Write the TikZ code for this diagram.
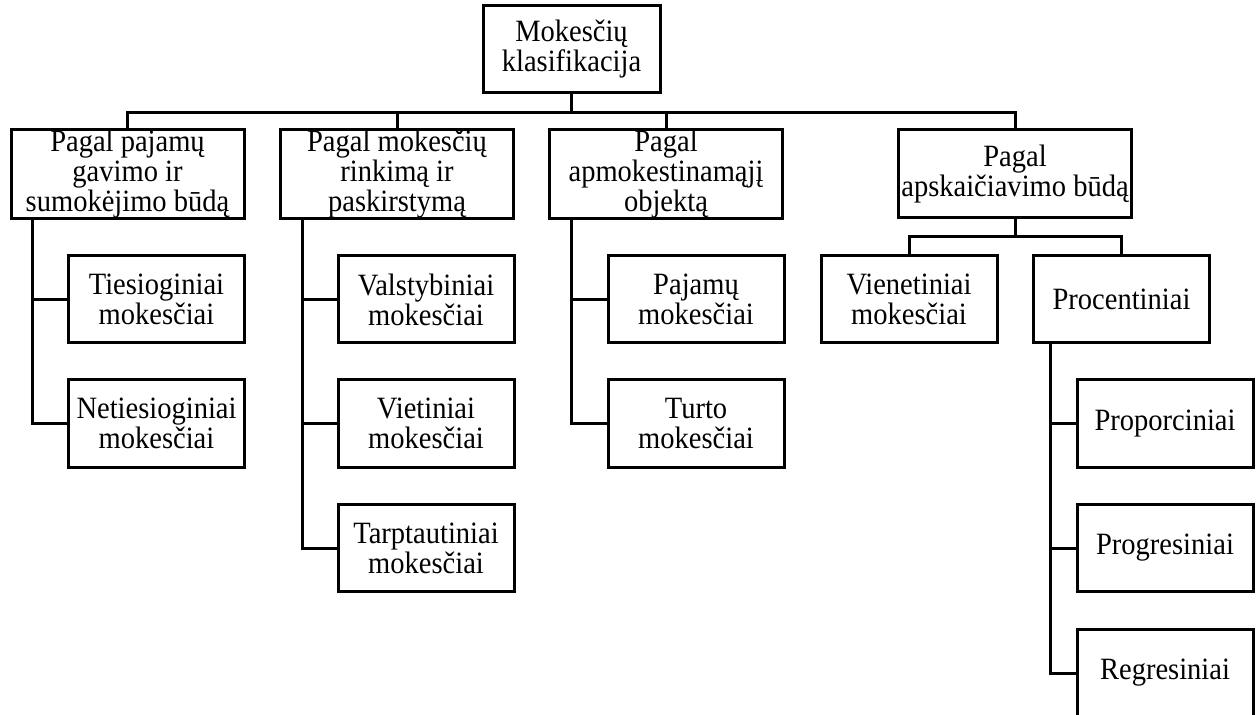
\documentclass[tikz,border=0pt]{standalone}
\usepackage{fontspec}
\setmainfont{Liberation Serif}[FakeStretch=0.92]
\begin{document}
\begin{tikzpicture}[x=.5pt, y=-.5pt, line width=1.5pt,
  kbox/.style={draw, line width=1.5pt, inner sep=0pt, align=center,
    font=\fontsize{15.5}{15}\selectfont, minimum height=43.5pt},
  grupe/.style={kbox, minimum width=116.5pt, minimum height=44pt},
  rusis/.style={kbox, minimum width=88pt}]
\useasboundingbox (0,0) rectangle (1256,715);
\node[kbox, minimum width=88.5pt] (root) at (571.5,49.5) {Mokesčių\\klasifikacija};
\node[grupe] (b1) at (127.5,174) {Pagal pajamų\\gavimo ir\\sumokėjimo būdą};
\node[grupe] (b2) at (397,174) {Pagal mokesčių\\rinkimą ir\\paskirstymą};
\node[grupe] (b3) at (666,174) {Pagal\\apmokestinamąjį\\objektą};
\node[grupe] (b4) at (1015,174) {Pagal\\apskaičiavimo būdą};
\node[rusis] (t1) at (156.5,299.5) {Tiesioginiai\\mokesčiai};
\node[rusis] (t2) at (156.5,423.5) {Netiesioginiai\\mokesčiai};
\node[rusis] (v1) at (426,299.5) {Valstybiniai\\mokesčiai};
\node[rusis] (v2) at (426,423.5) {Vietiniai\\mokesčiai};
\node[rusis] (v3) at (426,548) {Tarptautiniai\\mokesčiai};
\node[rusis] (p1) at (696,299.5) {Pajamų\\mokesčiai};
\node[rusis] (p2) at (696,423.5) {Turto\\mokesčiai};
\node[rusis] (u1) at (909,299.5) {Vienetiniai\\mokesčiai};
\node[rusis] (u2) at (1121.5,299.5) {Procentiniai};
\node[rusis] (r1) at (1165,423.5) {Proporciniai};
\node[rusis] (r2) at (1165,548) {Progresiniai};
\node[rusis] (r3) at (1165,673) {Regresiniai};
\coordinate (bus) at (0,113);
\coordinate (sub) at (0,237);
\coordinate (k1) at ([xshift=11.5pt]b1.south west);
\coordinate (k2) at ([xshift=11.5pt]b2.south west);
\coordinate (k3) at ([xshift=11.5pt]b3.south west);
\coordinate (k4) at ([xshift=9pt]u2.south west);
\draw (root) -- (root |- bus);
\draw (b1) -- (b1 |- bus) -| (b4);
\foreach \n in {b2,b3} \draw (\n) -- (\n |- bus);
\draw (k1) |- (t2);
\draw (k1 |- t1) -- (t1);
\draw (k2) |- (v3);
\foreach \n in {v1,v2} \draw (k2 |- \n) -- (\n);
\draw (k3) |- (p2);
\draw (k3 |- p1) -- (p1);
\draw (b4) -- (b4 |- sub);
\draw (u1) -- (u1 |- sub) -| (u2);
\draw (k4) |- (r3);
\foreach \n in {r1,r2} \draw (k4 |- \n) -- (\n);
\end{tikzpicture}
\end{document}
